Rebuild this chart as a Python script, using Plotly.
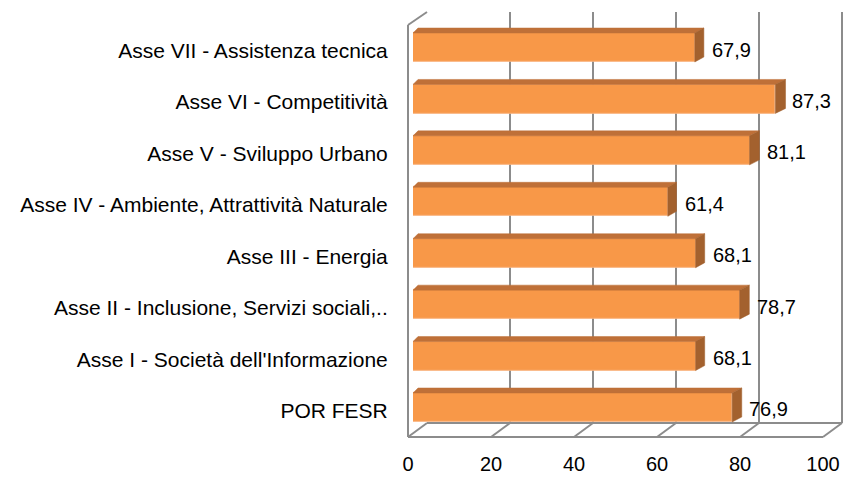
import plotly.graph_objects as go

# ---------------- data ----------------
categories = [
    "POR FESR",
    "Asse I - Società dell'Informazione",
    "Asse II - Inclusione, Servizi sociali,..",
    "Asse III - Energia",
    "Asse IV - Ambiente, Attrattività Naturale",
    "Asse V - Sviluppo Urbano",
    "Asse VI - Competitività",
    "Asse VII - Assistenza tecnica",
]
values = [76.9, 68.1, 78.7, 68.1, 61.4, 81.1, 87.3, 67.9]
x_ticks = [0, 20, 40, 60, 80, 100]

# ---------------- geometry (pixels in the 843x477 window) ----------------
W, H = 843, 477
BAR_X = (413, 828)      # front face of bars: value 0 -> 100
FLOOR_X = (408, 823)    # front floor edge: value 0 -> 100
BACK_X = (427, 842)     # back wall: value 0 -> 100
BACK_Y = (12, 423)      # back wall top/bottom
FRONT_FLOOR_Y = 437
LEFT_TOP_Y = 25
CAT_Y = (21.8, 433.2)   # y-axis domain for categories (top, bottom)
BAR_HALF = 0.282        # half bar thickness in category units
LABEL_DY = 0.06         # category labels sit slightly below bar centres
# depth of bars (back face) as transform in bar-axis data units
DEPTH_X0 = 5 / 4.15
DEPTH_XS = 4.21 / 4.15
DEPTH_Y = 5 / 51.43

FONT = "Liberation Sans, Arial, sans-serif"
FRONT_COL = "#F89848"
TOP_COL = "#BF7038"
SIDE_COL = "#A3612E"
GRID_COL = "#8C8C8C"


def px(x):
    return x / W


def py(y):
    return 1 - y / H


def back(v):
    return DEPTH_X0 + DEPTH_XS * v


n = len(categories)
idx = list(range(n))

fig = go.Figure()

# invisible traces to establish the back-wall subplot and floor tick axis
fig.add_trace(go.Scatter(x=[None], y=[None], xaxis="x", yaxis="y", showlegend=False, hoverinfo="skip"))
fig.add_trace(go.Scatter(x=[None], y=[None], xaxis="x3", yaxis="y", showlegend=False, hoverinfo="skip"))

# top and side faces of the 3D bars
tx, ty = [], []
sx, sy = [], []
for i, v in zip(idx, values):
    yt, yb = i + BAR_HALF, i - BAR_HALF
    tx += [0, v, back(v), back(0), 0, None]
    ty += [yt, yt, yt + DEPTH_Y, yt + DEPTH_Y, yt, None]
    sx += [v, back(v), back(v), v, v, None]
    sy += [yt, yt + DEPTH_Y, yb + DEPTH_Y, yb, yt, None]

fig.add_trace(go.Scatter(x=tx, y=ty, xaxis="x2", yaxis="y2", mode="lines", fill="toself",
                         fillcolor=TOP_COL, line=dict(width=0.5, color=TOP_COL),
                         showlegend=False, hoverinfo="skip", cliponaxis=False))
fig.add_trace(go.Scatter(x=sx, y=sy, xaxis="x2", yaxis="y2", mode="lines", fill="toself",
                         fillcolor=SIDE_COL, line=dict(width=0.5, color=SIDE_COL),
                         showlegend=False, hoverinfo="skip", cliponaxis=False))

# front faces
fig.add_trace(go.Bar(x=values, y=idx, orientation="h", xaxis="x2", yaxis="y2",
                     width=2 * BAR_HALF, marker=dict(color=FRONT_COL, line=dict(width=1, color="#F9B27C")),
                     showlegend=False, hoverinfo="skip", cliponaxis=False))

# value labels
annotations = []
for i, v in zip(idx, values):
    annotations.append(dict(x=v, y=i, xref="x2", yref="y2", text=f"{v:.1f}".replace(".", ","),
                            showarrow=False, xanchor="left", yanchor="middle", xshift=15, yshift=-2,
                            font=dict(family=FONT, size=20, color="#000000")))

# frame lines (walls and floor)
shapes = []
line = dict(color=GRID_COL, width=2)
shapes.append(dict(type="line", xref="paper", yref="paper", x0=px(FLOOR_X[0]), x1=px(FLOOR_X[0]),
                   y0=py(LEFT_TOP_Y), y1=py(FRONT_FLOOR_Y), line=line, layer="below"))
shapes.append(dict(type="line", xref="paper", yref="paper", x0=px(FLOOR_X[0]), x1=px(BACK_X[0]),
                   y0=py(LEFT_TOP_Y), y1=py(BACK_Y[0]), line=line, layer="below"))
shapes.append(dict(type="line", xref="paper", yref="paper", x0=px(BACK_X[1]), x1=px(BACK_X[1]),
                   y0=py(BACK_Y[0]), y1=py(BACK_Y[1]), line=line, layer="below"))
shapes.append(dict(type="line", xref="paper", yref="paper", x0=px(FLOOR_X[0]), x1=px(FLOOR_X[1]),
                   y0=py(FRONT_FLOOR_Y), y1=py(FRONT_FLOOR_Y), line=line, layer="below"))
shapes.append(dict(type="line", xref="paper", yref="paper", x0=px(BACK_X[0]), x1=px(BACK_X[1]),
                   y0=py(BACK_Y[1]), y1=py(BACK_Y[1]), line=line, layer="below"))
for t in x_ticks:
    fx = FLOOR_X[0] + (FLOOR_X[1] - FLOOR_X[0]) * t / 100
    bx = BACK_X[0] + (BACK_X[1] - BACK_X[0]) * t / 100
    shapes.append(dict(type="line", xref="paper", yref="paper", x0=px(fx), x1=px(bx),
                       y0=py(FRONT_FLOOR_Y), y1=py(BACK_Y[1]), line=line, layer="below"))

fig.update_layout(
    template="none",
    width=W, height=H,
    margin=dict(l=0, r=0, t=0, b=0, pad=0, autoexpand=False),
    paper_bgcolor="white", plot_bgcolor="rgba(0,0,0,0)",
    showlegend=False,
    bargap=0,
    font=dict(family=FONT, size=20, color="#000000"),
    xaxis=dict(domain=[px(BACK_X[0]), px(BACK_X[1])], range=[0, 100], tickvals=x_ticks,
               showgrid=True, gridcolor=GRID_COL, gridwidth=2, showticklabels=False,
               zeroline=False, showline=False, ticks="", anchor="y", fixedrange=True, automargin=False),
    yaxis=dict(domain=[py(BACK_Y[1]), py(BACK_Y[0])], range=[0, 1], visible=False,
               showgrid=False, zeroline=False, fixedrange=True, automargin=False),
    xaxis2=dict(domain=[px(BAR_X[0]), px(BAR_X[1])], range=[0, 100], anchor="y2",
                visible=False, showgrid=False, zeroline=False, fixedrange=True, automargin=False),
    yaxis2=dict(domain=[py(CAT_Y[1]), py(CAT_Y[0])], range=[-0.5, n - 0.5],
                anchor="free", position=px(FLOOR_X[0]),
                tickvals=[i - LABEL_DY for i in idx], ticktext=categories,
                showgrid=False, zeroline=False, showline=False,
                ticks="outside", ticklen=16, tickcolor="rgba(0,0,0,0)",
                tickfont=dict(family=FONT, size=21, color="#000000"), fixedrange=True, automargin=False),
    xaxis3=dict(domain=[px(FLOOR_X[0]), px(FLOOR_X[1])], range=[0, 100],
                anchor="free", position=py(FRONT_FLOOR_Y), side="bottom", tickvals=x_ticks,
                showgrid=False, zeroline=False, showline=False,
                ticks="outside", ticklen=9, tickcolor="rgba(0,0,0,0)",
                tickfont=dict(family=FONT, size=20, color="#000000"), fixedrange=True, automargin=False),
    annotations=annotations,
    shapes=shapes,
)

fig.write_html(
    "out.html",
    config={"displayModeBar": False},
    post_script="document.body.style.margin='0';document.documentElement.style.overflow='hidden';",
)
